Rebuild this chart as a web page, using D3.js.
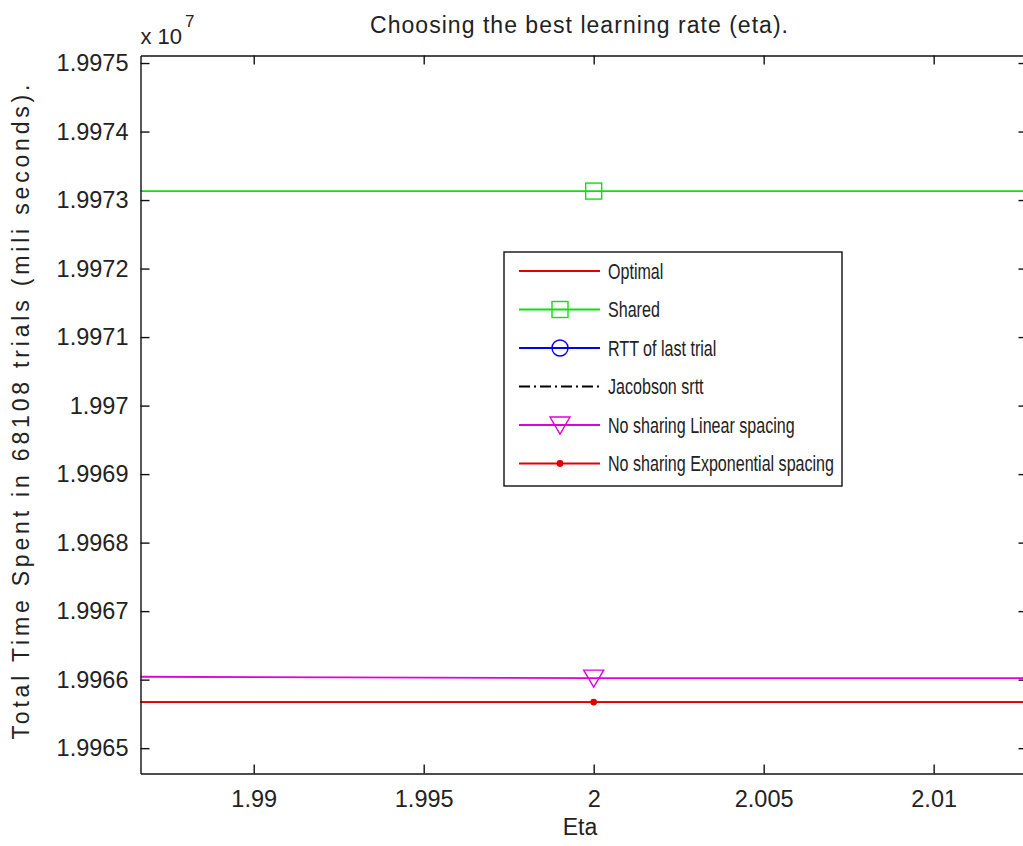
<!DOCTYPE html>
<html>
<head>
<meta charset="utf-8">
<script src="https://cdn.jsdelivr.net/npm/d3@7"></script>
<style>
html,body{margin:0;padding:0;background:#fff;}
svg{display:block;}
text{font-family:"Liberation Sans",Arial,sans-serif;fill:#222;}
</style>
</head>
<body>
<svg id="chart" width="1023" height="846"></svg>
<script>
// ---- data ----
const eta = [1.9, 2.0, 2.1];
const optimal = [19965672, 19965672, 19965672];
const shared = [19973131, 19973131, 19973131];
const rttLastTrial = [19978500, 19978500, 19978500];
const jacobsonSrtt = [19977800, 19977800, 19977800];
const noShareLinear = [19966175, 19966022, 19966022];
const noShareExponential = [19965672, 19965672, 19965672];
const markerEta = [2.0];
const xTicks = [1.99, 1.995, 2.0, 2.005, 2.01];
const yTicks = [19965000, 19966000, 19967000, 19968000, 19969000, 19970000, 19971000, 19972000, 19973000, 19974000, 19975000];
const xLimits = [1.98667, 2.01276];
const yLimits = [19964630, 19975110];
const seriesNames = ["Optimal", "Shared", "RTT of last trial", "Jacobson srtt", "No sharing Linear spacing", "No sharing Exponential spacing"];

const series = [
  {name: seriesNames[0], values: optimal, color: "#e00000", dash: null, marker: null},
  {name: seriesNames[1], values: shared, color: "#10dd10", dash: null, marker: "square"},
  {name: seriesNames[2], values: rttLastTrial, color: "#0000ee", dash: null, marker: "circle"},
  {name: seriesNames[3], values: jacobsonSrtt, color: "#000000", dash: "11,4,2,4", marker: null},
  {name: seriesNames[4], values: noShareLinear, color: "#dd00dd", dash: null, marker: "triangle"},
  {name: seriesNames[5], values: noShareExponential, color: "#e00000", dash: null, marker: "dot"}
];

// ---- layout ----
const L = 140.5, R = 1027.5, T = 55.5, B = 773.5;
const svg = d3.select("#chart");
svg.append("rect").attr("width", 1023).attr("height", 846).attr("fill", "#fff");

const x = d3.scaleLinear().domain(xLimits).range([L, R]);
const y = d3.scaleLinear().domain(yLimits).range([B, T]);

svg.append("defs").append("clipPath").attr("id", "plotclip")
  .append("rect").attr("x", L).attr("y", T).attr("width", R - L).attr("height", B - T);

const plot = svg.append("g").attr("clip-path", "url(#plotclip)");

function drawMarker(g, type, cx, cy, color) {
  if (type === "square") {
    g.append("rect").attr("x", cx - 8).attr("y", cy - 8).attr("width", 16).attr("height", 16)
      .attr("fill", "none").attr("stroke", color).attr("stroke-width", 1.4);
  } else if (type === "circle") {
    g.append("circle").attr("cx", cx).attr("cy", cy).attr("r", 8)
      .attr("fill", "none").attr("stroke", color).attr("stroke-width", 1.4);
  } else if (type === "triangle") {
    g.append("path").attr("d", `M${cx - 10},${cy - 8}L${cx + 10},${cy - 8}L${cx},${cy + 9}Z`)
      .attr("fill", "none").attr("stroke", color).attr("stroke-width", 1.4);
  } else if (type === "dot") {
    g.append("circle").attr("cx", cx).attr("cy", cy).attr("r", 3.4).attr("fill", color);
  }
}

const line = d3.line().x((d, i) => x(eta[i])).y(d => y(d));
series.forEach(s => {
  plot.append("path").datum(s.values).attr("d", line)
    .attr("fill", "none").attr("stroke", s.color).attr("stroke-width", 1.8)
    .attr("stroke-dasharray", s.dash);
  if (s.marker) {
    eta.forEach((e, i) => {
      if (markerEta.includes(e)) drawMarker(plot, s.marker, x(e), y(s.values[i]), s.color);
    });
  }
});

// ---- axes (box with inward ticks) ----
const fmtX = d => String(+d.toFixed(3));
const fmtY = d => String(+(d / 1e7).toFixed(4));
const tk = 9;
const TICKFS = 23.5;

const gB = svg.append("g").attr("transform", `translate(0,${B})`)
  .call(d3.axisBottom(x).tickValues(xTicks).tickFormat(fmtX).tickSizeInner(-tk).tickSizeOuter(0).tickPadding(17));
const gT = svg.append("g").attr("transform", `translate(0,${T})`)
  .call(d3.axisTop(x).tickValues(xTicks).tickFormat("").tickSizeInner(-tk).tickSizeOuter(0));
const gL = svg.append("g").attr("transform", `translate(${L},0)`)
  .call(d3.axisLeft(y).tickValues(yTicks).tickFormat(fmtY).tickSizeInner(-tk).tickSizeOuter(0).tickPadding(12));
const gR = svg.append("g").attr("transform", `translate(${R},0)`)
  .call(d3.axisRight(y).tickValues(yTicks).tickFormat("").tickSizeInner(-tk).tickSizeOuter(0));

[gB, gT, gL, gR].forEach(g => {
  g.select(".domain").attr("stroke", "#111").attr("stroke-width", 1.4);
  g.selectAll(".tick line").attr("stroke", "#111").attr("stroke-width", 1.4);
  g.selectAll(".tick text").attr("font-size", TICKFS).attr("font-family", "Liberation Sans, Arial, sans-serif").attr("fill", "#222");
});

// exponent label
const ex = svg.append("text").attr("x", L).attr("y", 44).attr("font-size", 22);
ex.append("tspan").text("x 10");
ex.append("tspan").attr("font-size", 17).attr("dy", -17).attr("dx", 3).text("7");

// title
svg.append("text").attr("x", 579).attr("y", 33).attr("text-anchor", "middle")
  .attr("font-size", 23).attr("textLength", 418).attr("lengthAdjust", "spacing")
  .text("Choosing the best learning rate (eta).");

// x label
svg.append("text").attr("x", 580).attr("y", 835).attr("text-anchor", "middle")
  .attr("font-size", 23).text("Eta");

// y label
svg.append("text").attr("transform", `translate(29,412) rotate(-90)`)
  .attr("text-anchor", "middle").attr("font-size", 23)
  .attr("textLength", 655).attr("lengthAdjust", "spacing")
  .text("Total Time Spent in 68108 trials (mili seconds).");

// ---- legend ----
const lgX = 504, lgY = 252, rowH = 38.5, firstRow = 19, LGFS = 22, lgTextMax = 226;
const lg = svg.append("g");
const box = lg.append("rect").attr("x", lgX).attr("y", lgY).attr("height", 234)
  .attr("fill", "#fff").attr("stroke", "#111").attr("stroke-width", 1.4);
const texts = [];
series.forEach((s, i) => {
  const cy = lgY + firstRow + i * rowH;
  lg.append("line").attr("x1", lgX + 15).attr("x2", lgX + 96).attr("y1", cy).attr("y2", cy)
    .attr("stroke", s.color).attr("stroke-width", 1.8).attr("stroke-dasharray", s.dash);
  if (s.marker) drawMarker(lg, s.marker, lgX + 56, cy, s.color);
  const t = lg.append("text").attr("x", lgX + 104).attr("y", cy).attr("dy", "0.36em")
    .attr("font-size", LGFS).text(s.name);
  texts.push(t);
});
const natMax = d3.max(texts, t => t.node().getComputedTextLength());
const k = Math.min(1, lgTextMax / natMax);
texts.forEach(t => {
  const w = t.node().getComputedTextLength();
  t.attr("textLength", w * k).attr("lengthAdjust", "spacingAndGlyphs");
});
box.attr("width", 104 + natMax * k + 8);
</script>
</body>
</html>
